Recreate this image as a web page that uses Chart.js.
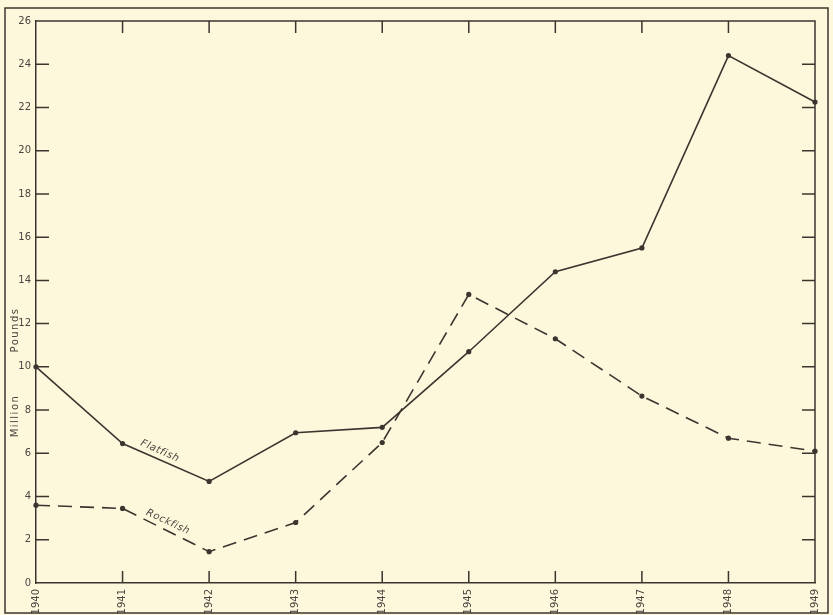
<!DOCTYPE html>
<html>
<head>
<meta charset="utf-8">
<script src="https://cdn.jsdelivr.net/npm/chart.js@4.4.0/dist/chart.umd.min.js"></script>
<style>
  html, body { margin: 0; padding: 0; background: #fdf8dc; }
  #wrap { width: 833px; height: 615px; }
</style>
</head>
<body>
<div id="wrap"><canvas id="chart"></canvas></div>
<script>
// --- data ---
const years = [1940, 1941, 1942, 1943, 1944, 1945, 1946, 1947, 1948, 1949];
const flatfish = [10.0, 6.45, 4.7, 6.95, 7.2, 10.7, 14.4, 15.5, 24.4, 22.25];
const rockfish = [3.6, 3.45, 1.45, 2.8, 6.5, 13.35, 11.3, 8.65, 6.7, 6.1];
const yTicks = [0, 2, 4, 6, 8, 10, 12, 14, 16, 18, 20, 22, 24, 26];

const INK = '#3b352f';
const TEXT = '#4a4540';

// frame, inward tick marks and hand lettering
const platePlugin = {
    id: 'plate',
    afterDraw(chart) {
        const { ctx, chartArea: a, scales } = chart;
        const x = scales.x, y = scales.y;
        ctx.save();
        ctx.strokeStyle = INK;
        ctx.lineWidth = 1.5;

        // outer frame
        ctx.strokeRect(5, 8, 823, 605);

        // plot box top + right
        ctx.beginPath();
        ctx.moveTo(a.left, a.top);
        ctx.lineTo(a.right, a.top);
        ctx.lineTo(a.right, a.bottom);
        ctx.stroke();

        // y ticks, left and right, pointing in
        yTicks.forEach(v => {
            if (v === 0 || v === 26) return;
            const py = y.getPixelForValue(v);
            ctx.beginPath();
            ctx.moveTo(a.left, py); ctx.lineTo(a.left + 13, py);
            ctx.moveTo(a.right, py); ctx.lineTo(a.right - 13, py);
            ctx.stroke();
        });

        // x ticks, bottom and top, pointing in
        years.slice(1, -1).forEach(v => {
            const px = x.getPixelForValue(v);
            ctx.beginPath();
            ctx.moveTo(px, a.bottom); ctx.lineTo(px, a.bottom - 12);
            ctx.moveTo(px, a.top); ctx.lineTo(px, a.top + 12);
            ctx.stroke();
        });

        // axis title
        ctx.fillStyle = TEXT;
        ctx.font = '10px "DejaVu Sans"';
        ctx.letterSpacing = '1.5px';
        ctx.textAlign = 'center';
        ctx.textBaseline = 'middle';
        ctx.save();
        ctx.translate(15, 330);
        ctx.rotate(-Math.PI / 2);
        ctx.fillText('Pounds', 0, 0);
        ctx.restore();
        ctx.save();
        ctx.translate(15, 416);
        ctx.rotate(-Math.PI / 2);
        ctx.fillText('Million', 0, 0);
        ctx.restore();

        // series labels along their lines
        ctx.font = 'italic 10px "DejaVu Sans"';
        ctx.letterSpacing = '0.6px';
        ctx.save();
        ctx.translate(160, 451);
        ctx.rotate(24 * Math.PI / 180);
        ctx.fillText('Flatfish', 0, 0);
        ctx.restore();
        ctx.save();
        ctx.translate(168, 522);
        ctx.rotate(25 * Math.PI / 180);
        ctx.fillText('Rockfish', 0, 0);
        ctx.restore();

        ctx.restore();
    }
};

const toPoints = arr => arr.map((v, i) => ({ x: years[i], y: v }));

new Chart(document.getElementById('chart'), {
    type: 'line',
    data: {
        datasets: [
            {
                label: 'Flatfish',
                data: toPoints(flatfish),
                borderColor: INK,
                backgroundColor: INK,
                borderWidth: 1.6,
                pointRadius: 2.6,
                pointBorderWidth: 0,
                tension: 0,
                clip: false
            },
            {
                label: 'Rockfish',
                data: toPoints(rockfish),
                borderColor: INK,
                backgroundColor: INK,
                borderWidth: 1.6,
                borderDash: [14, 8],
                pointRadius: 2.6,
                pointBorderWidth: 0,
                tension: 0,
                clip: false
            }
        ]
    },
    options: {
        responsive: true,
        maintainAspectRatio: false,
        animation: false,
        events: [],
        layout: { padding: { top: 21, right: 18, left: 0, bottom: 0 } },
        plugins: { legend: { display: false }, tooltip: { enabled: false } },
        scales: {
            x: {
                type: 'linear',
                min: 1940,
                max: 1949,
                afterBuildTicks: s => { s.ticks = years.map(v => ({ value: v })); },
                afterFit: s => { s.height = 32; },
                grid: { display: false, drawTicks: false },
                border: { display: true, color: INK, width: 1.5 },
                ticks: {
                    color: TEXT,
                    font: { family: 'DejaVu Sans', size: 10 },
                    padding: 6,
                    minRotation: 90,
                    maxRotation: 90,
                    callback: v => String(v)
                }
            },
            y: {
                min: 0,
                max: 26,
                afterBuildTicks: s => { s.ticks = yTicks.map(v => ({ value: v })); },
                afterFit: s => { s.width = 36; },
                grid: { display: false, drawTicks: false },
                border: { display: true, color: INK, width: 1.5 },
                ticks: {
                    color: TEXT,
                    font: { family: 'DejaVu Sans', size: 10 },
                    padding: 5
                }
            }
        }
    },
    plugins: [platePlugin]
});
</script>
</body>
</html>
